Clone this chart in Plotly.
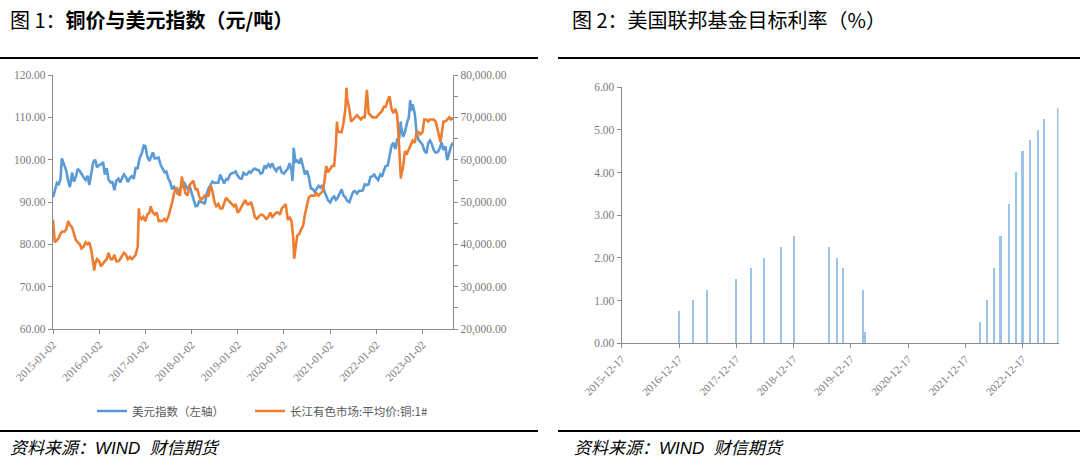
import plotly.graph_objects as go

# ---------------- data: left chart (semi-monthly readings, day 2 & 16) ----------------
dxy_2015 = [91.1, 92.5, 94.5, 94.2, 95.3, 100.0, 98.3, 97.5, 95.0, 93.5, 97.0, 94.8,
            96.0, 97.8, 97.3, 96.5, 95.8, 95.2, 96.2, 94.0, 96.9, 99.4, 100.0, 98.2]
dxy_2016 = [98.7, 98.9, 99.4, 96.5, 98.0, 95.3, 94.6, 94.7, 92.8, 95.0, 95.5, 94.6,
            95.7, 96.5, 95.8, 94.7, 95.7, 96.1, 95.5, 98.0, 98.0, 100.3, 101.3, 102.6]
dxy_2017 = [103.2, 100.8, 99.7, 100.8, 101.7, 100.3, 100.4, 100.5, 98.8, 98.0, 97.0, 97.2,
            95.5, 94.7, 93.0, 93.6, 92.8, 91.8, 93.3, 93.5, 94.8, 93.8, 93.0, 93.9]
dxy_2018 = [92.1, 90.5, 89.0, 89.1, 90.1, 90.0, 89.9, 89.5, 92.0, 93.2, 94.1, 94.8,
            94.5, 94.5, 94.6, 96.5, 95.3, 94.4, 95.4, 95.3, 96.5, 96.8, 96.9, 97.2]
dxy_2019 = [96.2, 95.6, 95.5, 96.9, 96.5, 96.5, 97.2, 96.9, 97.6, 97.9, 97.6, 97.5,
            96.7, 96.9, 98.6, 98.1, 98.9, 98.3, 99.1, 98.0, 97.3, 98.0, 98.2, 97.0]
dxy_2020 = [96.7, 97.3, 97.9, 99.2, 97.5, 98.4, 99.5, 99.8, 99.1, 100.4, 97.8, 96.5,
            97.4, 96.0, 93.2, 93.1, 92.4, 93.0, 93.8, 93.4, 94.0, 92.6, 91.3, 90.4]
dxy_2021 = [89.9, 90.8, 91.3, 90.5, 91.0, 91.8, 93.0, 91.6, 91.1, 90.3, 90.0, 91.1,
            92.4, 92.6, 92.0, 92.6, 92.7, 92.7, 94.2, 94.0, 94.2, 95.9, 96.1, 96.5]
dxy_2022 = [95.7, 95.2, 96.5, 96.0, 97.4, 98.5, 98.6, 100.5, 103.3, 104.0, 102.5, 104.8,
            105.1, 107.9, 105.4, 106.5, 108.8, 110.0, 111.5, 113.1, 110.8, 106.4, 104.7, 104.2]
dxy_2023 = [103.5, 102.2, 101.5, 103.9, 104.5, 103.7, 102.2, 101.7, 101.8, 102.5, 104.1, 102.3,
            103.1, 99.9, 102.0, 103.2]
dxy_extra_dates = ["2015-03-13", "2016-12-20", "2020-03-09", "2020-03-19",
                   "2022-07-14", "2022-09-27", "2023-08-31"]
dxy_extra_vals = [100.3, 103.3, 95.0, 102.8, 109.0, 114.1, 104.0]

cu_2015 = [45800, 40500, 41000, 41500, 42500, 43000, 43000, 43500, 45500, 44500, 44000, 42500,
           41000, 40500, 40000, 39000, 39500, 40500, 40000, 40500, 38500, 35500, 35500, 36500]
cu_2016 = [36000, 34800, 35500, 36000, 36500, 38000, 36500, 36500, 37500, 36000, 36000, 36500,
           37500, 38000, 37500, 36500, 37000, 36500, 37000, 37500, 39500, 46500, 46000, 46500]
cu_2017 = [45500, 47000, 47500, 48500, 47500, 47000, 47500, 45500, 45500, 45500, 46000, 45500,
           46500, 48000, 50000, 52000, 53500, 52000, 51500, 55500, 53500, 52000, 51500, 54000]
cu_2018 = [54500, 55000, 53000, 53000, 51500, 50500, 51000, 51500, 51500, 51500, 54000, 52500,
           50000, 49000, 49500, 48500, 48500, 49500, 51000, 50500, 50000, 49500, 49000, 49500]
cu_2019 = [47500, 48000, 49000, 49500, 50500, 49500, 49500, 50000, 48500, 46500, 46000, 46500,
           47000, 47000, 46500, 46000, 46500, 47500, 46500, 47000, 47500, 47500, 47000, 48500]
cu_2020 = [49000, 49500, 45700, 46500, 45500, 41500, 39500, 42000, 42500, 43500, 44500, 47000,
           49000, 51000, 51500, 51500, 51500, 52000, 51500, 52000, 52500, 54500, 58500, 57000]
cu_2021 = [58000, 58500, 58500, 63500, 67000, 66500, 66500, 68500, 72000, 74500, 72000, 69000,
           69500, 70000, 70500, 70000, 69500, 70000, 70000, 75500, 71000, 70500, 70000, 70000]
cu_2022 = [70000, 70500, 71000, 71500, 72500, 72500, 74000, 75000, 72000, 71000, 72000, 70500,
           62500, 56000, 58500, 62000, 61500, 62500, 63500, 64500, 64000, 66500, 66500, 66000]
cu_2023 = [66500, 69500, 69500, 69000, 69500, 69500, 69500, 69000, 67000, 65500, 66000, 69000,
           69000, 69500, 70000, 69500]
cu_extra_dates = ["2015-11-24", "2016-11-11", "2017-02-13", "2017-10-16", "2020-03-23",
                  "2021-02-25", "2021-05-11", "2021-10-19", "2022-07-15", "2023-05-24", "2023-08-31"]
cu_extra_vals = [33800, 48500, 49000, 56000, 36600, 69000, 77000, 76500, 55500, 64200, 69800]

years = [2015, 2016, 2017, 2018, 2019, 2020, 2021, 2022, 2023]
dxy_years = [dxy_2015, dxy_2016, dxy_2017, dxy_2018, dxy_2019, dxy_2020, dxy_2021, dxy_2022, dxy_2023]
cu_years = [cu_2015, cu_2016, cu_2017, cu_2018, cu_2019, cu_2020, cu_2021, cu_2022, cu_2023]

left_ticks = ["2015-01-02", "2016-01-02", "2017-01-02", "2018-01-02", "2019-01-02",
              "2020-01-02", "2021-01-02", "2022-01-02", "2023-01-02"]

# ---------------- data: right chart (fed funds target upper bound) ----------------
fed_dates = ["2016-12-14", "2017-03-15", "2017-06-14", "2017-12-13", "2018-03-21", "2018-06-13",
             "2018-09-26", "2018-12-19", "2019-07-31", "2019-09-18", "2019-10-30", "2020-03-03",
             "2020-03-15", "2022-03-16", "2022-05-04", "2022-06-15", "2022-07-27", "2022-09-21",
             "2022-11-02", "2022-12-14", "2023-02-01", "2023-03-22", "2023-05-03", "2023-07-26"]
fed_vals = [0.75, 1.00, 1.25, 1.50, 1.75, 2.00, 2.25, 2.50, 2.25, 2.00, 1.75, 1.25,
            0.25, 0.50, 1.00, 1.75, 2.50, 3.25, 4.00, 4.50, 4.75, 5.00, 5.25, 5.50]
right_ticks = ["2015-12-17", "2016-12-17", "2017-12-17", "2018-12-17", "2019-12-17",
               "2020-12-17", "2021-12-17", "2022-12-17"]


def build_series(year_arrays, extra_d, extra_v):
    pts = []
    for y, arr in zip(years, year_arrays):
        for i, v in enumerate(arr):
            m = i // 2 + 1
            d = 2 if i % 2 == 0 else 16
            pts.append((f"{y}-{m:02d}-{d:02d}", v))
    pts += list(zip(extra_d, extra_v))
    pts.sort(key=lambda p: p[0])
    return [p[0] for p in pts], [p[1] for p in pts]


dxy_x, dxy_y = build_series(dxy_years, dxy_extra_dates, dxy_extra_vals)
cu_x, cu_y = build_series(cu_years, cu_extra_dates, cu_extra_vals)

W, H = 1080, 467
def px(x): return x / W
def py(y): return 1 - y / H

AX = "#8c8c8c"
TXT = "#7a7a7a"
SERIF = "Liberation Serif, Times New Roman, serif"
CJK = "Noto Sans CJK SC"

fig = go.Figure()
fig.add_trace(go.Scatter(x=dxy_x, y=dxy_y, mode="lines", name="美元指数（左轴）",
                         line=dict(color="#5B9BD5", width=2.6), xaxis="x", yaxis="y",
                         legend="legend"))
fig.add_trace(go.Scatter(x=cu_x, y=cu_y, mode="lines", name="长江有色市场:平均价:铜:1#",
                         line=dict(color="#ED7D31", width=2.6), xaxis="x", yaxis="y2",
                         legend="legend2"))
fig.add_trace(go.Bar(x=fed_dates, y=fed_vals, width=10 * 86400000,
                     marker=dict(color="#9DC3E6", line=dict(width=0)),
                     xaxis="x2", yaxis="y3", showlegend=False))

tickfont = dict(family=SERIF, size=11.5, color=TXT)
xtickfont = dict(family=SERIF, size=11, color=TXT)
common = dict(showgrid=False, zeroline=False, showline=True, linecolor=AX, linewidth=1.2,
              ticks="outside", ticklen=4, tickcolor=AX, automargin=False)

fig.update_layout(
    width=W, height=H, margin=dict(l=0, r=0, t=0, b=0, autoexpand=False),
    paper_bgcolor="white", plot_bgcolor="white",
    xaxis=dict(domain=[px(53), px(453)], anchor="y", type="date",
               range=["2015-01-02", "2023-08-31"],
               tickvals=left_ticks, ticktext=left_ticks, tickangle=-45,
               tickfont=xtickfont, **common),
    yaxis=dict(domain=[py(329), py(75)], anchor="x", range=[60, 120], dtick=10,
               tickformat=".2f", tickfont=tickfont, **common),
    yaxis2=dict(overlaying="y", side="right", anchor="x", range=[20000, 80000], dtick=10000,
                tickformat=",.2f", tickfont=tickfont,
                minor=dict(dtick=5000, ticks="outside", ticklen=4, tickcolor=AX), **common),
    xaxis2=dict(domain=[px(621.7), px(1058.5)], anchor="y3", type="date",
                range=["2015-12-17", "2023-08-01"],
                tickvals=right_ticks, ticktext=right_ticks, tickangle=-45,
                tickfont=xtickfont, **common),
    yaxis3=dict(domain=[py(343.3), py(87.3)], anchor="x2", range=[0, 6], dtick=1,
                tickformat=".2f", tickfont=tickfont, **common),
    bargap=0,
    legend=dict(x=px(92), y=py(411), xanchor="left", yanchor="middle",
                font=dict(family=CJK, size=11.5, color="#595959"),
                bgcolor="rgba(0,0,0,0)", borderwidth=0, itemwidth=30),
    legend2=dict(x=px(250), y=py(411), xanchor="left", yanchor="middle",
                 font=dict(family=CJK, size=11.5, color="#595959"),
                 bgcolor="rgba(0,0,0,0)", borderwidth=0, itemwidth=30),
)

# titles
fig.add_annotation(x=px(8), y=py(20), xref="paper", yref="paper", xanchor="left", yanchor="middle",
                   text="图 1：<b>铜价与美元指数（元/吨）</b>", showarrow=False,
                   font=dict(family=CJK, size=20, color="black"))
fig.add_annotation(x=px(570), y=py(20), xref="paper", yref="paper", xanchor="left", yanchor="middle",
                   text="图 2：美国联邦基金目标利率（%）", showarrow=False,
                   font=dict(family=CJK, size=20, color="black"))
# sources
for sx in (8, 572):
    fig.add_annotation(x=px(sx), y=py(448), xref="paper", yref="paper", xanchor="left",
                       yanchor="middle", text="资料来源：WIND  财信期货", showarrow=False,
                       font=dict(family="Liberation Sans, " + CJK, size=17, color="black",
                                 style="italic"))
# separator rules
for (x0, x1) in ((0, 538), (558, 1080)):
    for yy in (58, 431):
        fig.add_shape(type="line", xref="paper", yref="paper", x0=px(x0), x1=px(x1),
                      y0=py(yy), y1=py(yy), line=dict(color="black", width=2))

fig.write_html("out.html")
